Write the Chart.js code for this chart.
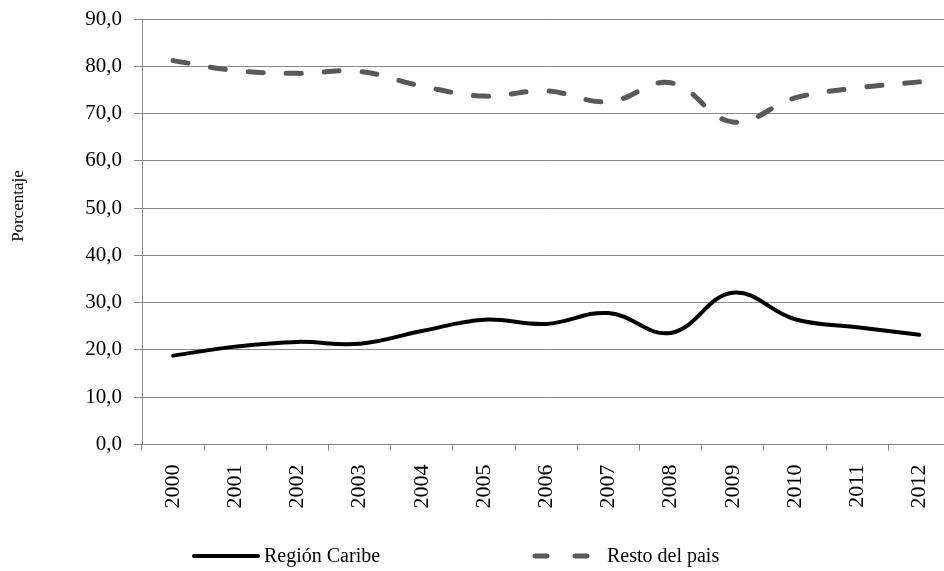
<!DOCTYPE html>
<html lang="es">
<head>
    <meta charset="UTF-8">
    <title>Porcentaje Región Caribe vs Resto del pais</title>
    <script src="https://cdn.jsdelivr.net/npm/chart.js@4.4.1/dist/chart.umd.min.js"></script>
    <style>
        body {
            margin: 0;
            background: #fff;
        }
        /* the plot area runs a little past the right edge, like the original */
        .chart-box {
            width: 944px;
            height: 571px;
            overflow: hidden;
        }
    </style>
</head>
<body>
    <div class="chart-box">
        <canvas id="myChart" width="960" height="571"></canvas>
    </div>

    <script>
        // Datos
        var years = ['2000', '2001', '2002', '2003', '2004', '2005', '2006',
                     '2007', '2008', '2009', '2010', '2011', '2012'];
        var regionCaribe = [18.8, 20.7, 21.7, 21.3, 24.0, 26.4, 25.5, 27.8, 23.6, 32.1, 26.5, 24.8, 23.2];
        var restoPais = [81.2, 79.1, 78.5, 78.9, 75.8, 73.7, 74.8, 72.5, 76.5, 68.2, 73.3, 75.4, 76.7];
        var yTicks = [0, 10, 20, 30, 40, 50, 60, 70, 80, 90];
        var yTitle = 'Porcentaje';

        var serif = "'Liberation Serif', 'Times New Roman', serif";
        var gridGray = '#878787';

        // legend under the axis + the y title (sits above centre in the original)
        var legendSpots = [{ x: 192, w: 68 }, { x: 533, w: 62 }];
        var extraText = {
            id: 'extraText',
            afterDraw: function(chart) {
                var c = chart.ctx;
                var y = 556;
                c.save();
                chart.data.datasets.forEach(function(ds, i) {
                    var spot = legendSpots[i];
                    c.beginPath();
                    c.strokeStyle = ds.borderColor;
                    c.lineWidth = ds.borderWidth;
                    c.lineCap = 'round';
                    c.setLineDash(ds.legendDash || []);
                    c.moveTo(spot.x + 2, y);
                    c.lineTo(spot.x + spot.w - 2, y);
                    c.stroke();
                    c.setLineDash([]);
                    c.fillStyle = '#000';
                    c.font = '20px ' + serif;
                    c.textBaseline = 'middle';
                    c.textAlign = 'left';
                    c.fillText(ds.label, spot.x + spot.w + (i === 0 ? 4 : 12), y + 1);
                });

                // rotated axis title
                c.translate(19, 206);
                c.rotate(-Math.PI / 2);
                c.font = '17px ' + serif;
                c.textAlign = 'center';
                c.textBaseline = 'middle';
                c.fillStyle = '#000';
                c.fillText(yTitle, 0, 0);
                c.restore();
            }
        };

        var ctx = document.getElementById('myChart').getContext('2d');

        var myChart = new Chart(ctx, {
            type: 'line',
            data: {
                labels: years,
                datasets: [
                    {
                        label: 'Región Caribe',
                        data: regionCaribe,
                        borderColor: '#000000',
                        backgroundColor: '#000000',
                        borderWidth: 4,
                        borderCapStyle: 'round',
                        tension: 0.4,
                        pointRadius: 0,
                        fill: false
                    },
                    {
                        label: 'Resto del pais',
                        data: restoPais,
                        borderColor: '#595959',
                        backgroundColor: '#595959',
                        borderWidth: 5,
                        borderDash: [15, 23],
                        legendDash: [12, 28],
                        borderCapStyle: 'round',
                        tension: 0.4,
                        pointRadius: 0,
                        fill: false
                    }
                ]
            },
            plugins: [extraText],
            options: {
                responsive: false,
                animation: false,
                layout: {
                    padding: { left: 0, right: 5, top: 19, bottom: 0 }
                },
                plugins: {
                    tooltip: { enabled: false },
                    legend: { display: false }
                },
                scales: {
                    x: {
                        offset: true,
                        afterFit: function(scale) {
                            scale.height = 126.5;
                        },
                        grid: {
                            display: true,
                            drawOnChartArea: false,
                            drawTicks: true,
                            tickLength: 6,
                            color: gridGray,
                            offset: true
                        },
                        border: { color: gridGray, width: 1 },
                        ticks: {
                            color: '#000',
                            minRotation: 90,
                            maxRotation: 90,
                            padding: 14,
                            font: { family: serif, size: 22 }
                        }
                    },
                    y: {
                        min: 0,
                        max: 90,
                        afterBuildTicks: function(scale) {
                            scale.ticks = yTicks.map(function(v) { return { value: v }; });
                        },
                        afterFit: function(scale) {
                            scale.width = 142;
                            scale.paddingTop = 0;
                            scale.paddingBottom = 0;
                        },
                        grid: {
                            color: gridGray,
                            lineWidth: 1,
                            tickLength: 8
                        },
                        border: { color: gridGray, width: 1 },
                        ticks: {
                            color: '#000',
                            padding: 12,
                            font: { family: serif, size: 21 },
                            callback: function(value) {
                                return value.toFixed(1).replace('.', ',');
                            }
                        }
                    }
                }
            }
        });
    </script>
</body>
</html>
